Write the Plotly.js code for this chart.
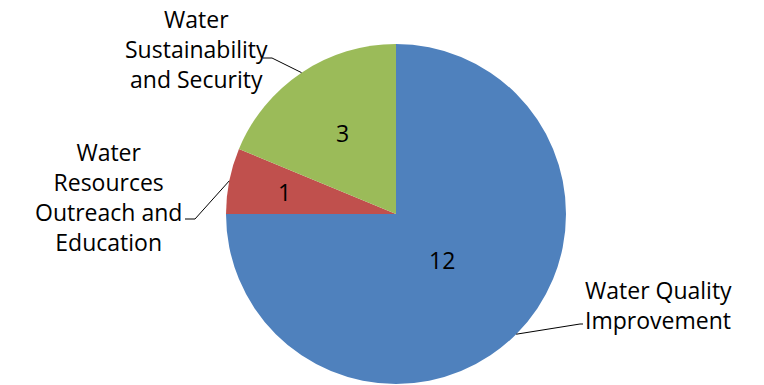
<!DOCTYPE html>
<html>
<head>
<meta charset="utf-8">
<script src="https://cdn.plot.ly/plotly-3.0.1.min.js"></script>
<style>html,body{margin:0;padding:0;background:#fff;}#chart{width:764px;height:385px;}</style>
</head>
<body>
<div id="chart"></div>
<script>
// Data
const categories = ["Water Quality Improvement", "Water Resources Outreach and Education", "Water Sustainability and Security"];
const values = [12, 1, 3];
const colors = ["#4F81BD", "#C0504D", "#9BBB59"];
const labelTexts = ["Water Quality<br>Improvement", "Water<br>Resources<br>Outreach and<br>Education", "Water<br>Sustainability<br>and Security"];

// Layout / style (pixels)
const W = 764, H = 385;
const CX = 396, CY = 214, R = 170;
const valueRadiusFrac = [0.38, 0.67, 0.57];
const labelPos = [[583, 305], [108, 197], [196, 49]];
const labelAnchor = ["left", "center", "center"];
const labelAlign = ["left", "center", "center"];
const elbow = [[[580, 324], [583, 324]], [[195, 219], [185, 219]], [[272, 58], [263, 58]]];
const FONT = "Open Sans, DejaVu Sans, sans-serif";
const FS = 23;

const px = x => x / W;
const py = y => 1 - y / H;

const total = values.reduce((a, b) => a + b, 0);
let cum = 0;
const annotations = [];
const shapes = [];
values.forEach((v, i) => {
  const mid = (cum + v / 2) / total * 2 * Math.PI;
  cum += v;
  const s = Math.sin(mid), c = Math.cos(mid);
  // value label
  const vr = R * valueRadiusFrac[i];
  annotations.push({
    xref: "paper", yref: "paper",
    x: px(CX + vr * s), y: py(CY - vr * c),
    xanchor: "center", yanchor: "middle",
    text: String(v), showarrow: false,
    font: {family: FONT, size: FS, color: "#000"}
  });
  // category label
  annotations.push({
    xref: "paper", yref: "paper",
    x: px(labelPos[i][0]), y: py(labelPos[i][1]),
    xanchor: labelAnchor[i], yanchor: "middle", align: labelAlign[i],
    text: labelTexts[i], showarrow: false,
    font: {family: FONT, size: FS, color: "#000"}
  });
  // leader line
  const ax = CX + R * s, ay = CY - R * c;
  const pts = [[ax, ay]].concat(elbow[i]);
  const path = pts.map((p, k) => (k ? "L" : "M") + px(p[0]) + "," + py(p[1])).join(" ");
  shapes.push({type: "path", xref: "paper", yref: "paper", path: path, line: {color: "#000", width: 1}});
});

const trace = {
  type: "pie",
  labels: categories,
  values: values,
  sort: false,
  direction: "clockwise",
  rotation: 0,
  textinfo: "none",
  hoverinfo: "label+value",
  marker: {colors: colors, line: {width: 0}},
  domain: {x: [px(CX - R), px(CX + R)], y: [py(CY + R), py(CY - R)]},
  showlegend: false
};

Plotly.newPlot("chart", [trace], {
  width: W, height: H,
  margin: {l: 0, r: 0, t: 0, b: 0},
  paper_bgcolor: "#fff",
  showlegend: false,
  annotations: annotations,
  shapes: shapes
}, {displayModeBar: false, staticPlot: true});
</script>
</body>
</html>
